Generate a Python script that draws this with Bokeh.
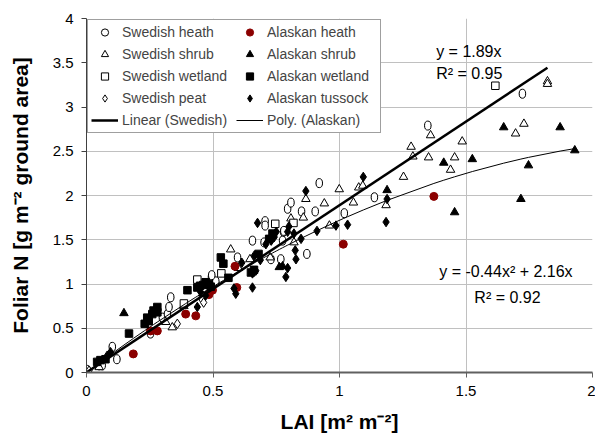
from bokeh.plotting import figure
from bokeh.models import Legend, LegendItem, Label, FixedTicker, NumeralTickFormatter, Range1d
from bokeh.embed import file_html
from bokeh.resources import INLINE

# ---------------- data ----------------
sw_heath_x = [0.003, 0.05, 0.062, 0.102, 0.12, 0.253, 0.30, 0.32, 0.326, 0.333, 0.458, 0.494, 0.511,
              0.495, 0.597, 0.656, 0.702, 0.729, 0.768, 0.779, 0.706, 0.706, 0.775, 0.78, 0.795, 0.808,
              0.850, 0.871, 0.904, 0.920, 1.019, 1.138, 1.349, 1.723]
sw_heath_y = [0.03, 0.08, 0.08, 0.29, 0.15, 0.44, 0.62, 0.66, 0.74, 0.85, 0.84, 1.08, 1.03,
              1.10, 1.30, 1.49, 1.47, 1.28, 1.28, 1.59, 1.71, 1.66, 1.49, 1.60, 1.85, 1.92,
              1.82, 1.34, 1.82, 2.14, 1.80, 1.98, 2.79, 3.15]

sw_shrub_x = [0.05, 0.313, 0.339, 0.385, 0.57, 0.60, 0.646, 0.726, 0.808, 0.82, 0.857, 0.867, 0.94,
              0.96, 0.999, 1.055, 1.076, 1.092, 1.184, 1.253, 1.283, 1.29, 1.352, 1.36, 1.439, 1.455,
              1.485, 1.696, 1.729, 1.822, 1.822]
sw_shrub_y = [0.06, 0.57, 0.51, 0.75, 1.39, 1.18, 1.28, 1.30, 1.74, 1.47, 1.75, 1.96, 1.91,
              1.66, 2.07, 1.92, 2.09, 2.11, 1.89, 2.21, 2.55, 2.44, 2.43, 2.68, 2.29, 2.43,
              2.61, 2.70, 2.81, 3.29, 3.26]

sw_wetland_x = [0.385, 0.438, 0.533, 0.746, 0.818, 1.616]
sw_wetland_y = [0.78, 1.05, 1.12, 1.68, 1.69, 3.24]

sw_peat_x = [0.01, 0.359, 0.463]
sw_peat_y = [0.02, 0.55, 0.79]

al_heath_x = [0.185, 0.253, 0.28, 0.392, 0.432, 0.484, 0.498, 0.587, 0.594, 1.015, 1.373]
al_heath_y = [0.21, 0.47, 0.47, 0.66, 0.64, 0.88, 0.93, 1.20, 0.96, 1.45, 1.99]

al_shrub_x = [0.148, 0.762, 0.775, 1.188, 1.412, 1.455, 1.525, 1.649, 1.717, 1.747, 1.872, 1.93]
al_shrub_y = [0.67, 1.19, 1.20, 2.06, 2.37, 1.81, 2.41, 2.77, 1.96, 2.34, 2.77, 2.51]

al_wetland_x = [0.042, 0.055, 0.075, 0.168, 0.23, 0.246, 0.24, 0.26, 0.265, 0.28, 0.28, 0.399, 0.438,
                0.449, 0.462, 0.471, 0.484, 0.491, 0.531, 0.541, 0.561, 0.65, 0.662, 0.68, 0.735, 0.722]
al_wetland_y = [0.12, 0.14, 0.15, 0.44, 0.55, 0.58, 0.62, 0.66, 0.70, 0.68, 0.74, 0.93, 0.96,
                0.98, 0.99, 1.02, 1.00, 0.97, 1.30, 1.23, 1.07, 1.13, 1.16, 1.34, 1.57, 1.51]

al_tussock_x = [0.082, 0.095, 0.438, 0.451, 0.471, 0.583, 0.590, 0.614, 0.656, 0.656, 0.663, 0.669,
                0.676, 0.687, 0.709, 0.73, 0.742, 0.75, 0.788, 0.795, 0.795, 0.80, 0.82, 0.825, 0.828,
                0.848, 0.867, 0.911, 0.986, 1.032, 1.094, 1.184, 1.188]
al_tussock_y = [0.19, 0.23, 0.74, 0.91, 0.87, 0.95, 0.89, 1.24, 0.96, 1.12, 1.32, 1.15,
                1.69, 1.27, 1.45, 1.49, 1.53, 1.59, 1.08, 1.18, 1.59, 1.65, 1.57, 1.38, 1.28,
                1.51, 2.05, 1.60, 1.66, 1.67, 2.21, 1.70, 1.96]

# trend-line coefficients (as printed on the chart)
sw_slope = 1.89
sw_r2 = 0.95
al_a2 = -0.44
al_a1 = 2.16
al_r2 = 0.92

x_ticks = [0, 0.5, 1, 1.5, 2]
y_ticks = [0, 0.5, 1, 1.5, 2, 2.5, 3, 3.5, 4]

FONT = "Liberation Sans"

# ---------------- figure ----------------
p = figure(width=595, height=447, output_backend="svg", toolbar_location=None,
           x_range=Range1d(0, 2), y_range=Range1d(0, 4),
           min_border_left=86, min_border_right=3, min_border_top=18, min_border_bottom=75)
p.outline_line_color = None
p.background_fill_color = "white"
p.border_fill_color = "white"

p.xaxis.ticker = FixedTicker(ticks=x_ticks)
p.yaxis.ticker = FixedTicker(ticks=y_ticks)
p.xgrid.ticker = FixedTicker(ticks=x_ticks)
p.ygrid.ticker = FixedTicker(ticks=y_ticks)
p.xaxis.formatter = NumeralTickFormatter(format="0.[0]")
p.yaxis.formatter = NumeralTickFormatter(format="0.[0]")
for g in (p.xgrid, p.ygrid):
    g.grid_line_color = "#c0c0c0"
    g.grid_line_width = 1

for ax in (p.xaxis, p.yaxis):
    ax.major_label_text_font = FONT
    ax.major_label_text_font_size = "15px"
    ax.major_label_text_color = "black"
    ax.axis_label_text_font = FONT
    ax.axis_label_text_font_size = "21px"
    ax.axis_label_text_font_style = "bold"
    ax.axis_label_text_color = "black"
    ax.minor_tick_line_color = None
    ax.major_tick_in = 0
    ax.major_tick_out = 5
    ax.major_label_standoff = 8

p.xaxis.axis_line_color = "#606060"
p.xaxis.axis_line_width = 2
p.xaxis.major_tick_line_color = "#606060"
p.yaxis.axis_line_color = "#404040"
p.yaxis.major_tick_line_color = "#404040"
p.xaxis.axis_label = "LAI [m² m⁻²]"
p.yaxis.axis_label = "Foliar N [g m⁻² ground area]"
p.xaxis.axis_label_standoff = 11
p.yaxis.axis_label_standoff = 18

# small round marker used for the legend entry; hidden underneath the ellipses
r_sw_heath_leg = p.scatter(sw_heath_x, sw_heath_y, marker="circle", size=6, fill_color="white",
                           line_color="black", line_width=1)
r_sw_heath = p.ellipse(sw_heath_x, sw_heath_y, width=6.5, height=9, width_units="screen",
                       height_units="screen", fill_color="white", line_color="black", line_width=1)
r_sw_shrub = p.scatter(sw_shrub_x, sw_shrub_y, marker="triangle", size=8.5, fill_color="white",
                       line_color="black", line_width=1)
r_sw_wet = p.scatter(sw_wetland_x, sw_wetland_y, marker="square", size=7.5, fill_color="white",
                     line_color="black", line_width=1)
r_sw_peat = p.scatter(sw_peat_x, sw_peat_y, marker="diamond", size=9.5,
                      fill_color="white", line_color="black", line_width=1)
r_al_heath = p.scatter(al_heath_x, al_heath_y, marker="circle", size=8, fill_color="#8b0000",
                       line_color="#8b0000")
r_al_shrub = p.scatter(al_shrub_x, al_shrub_y, marker="triangle", size=8.5, fill_color="black",
                       line_color="black")
r_al_wet = p.scatter(al_wetland_x, al_wetland_y, marker="square", size=7.5, fill_color="black",
                     line_color="black")
r_al_tus = p.scatter(al_tussock_x, al_tussock_y, marker="diamond", size=9.5,
                     fill_color="black", line_color="black")

sw_all_x = sw_heath_x + sw_shrub_x + sw_wetland_x + sw_peat_x
lin_x = [0.0, max(sw_all_x)]
lin_y = [sw_slope * v for v in lin_x]
r_lin = p.line(lin_x, lin_y, line_color="black", line_width=2.5)

al_all_x = sorted(al_heath_x + al_shrub_x + al_wetland_x + al_tussock_x)
poly_x = [0.0] + al_all_x
poly_y = [al_a2 * v * v + al_a1 * v for v in poly_x]
r_poly = p.line(poly_x, poly_y, line_color="black", line_width=1)

items = [
    LegendItem(label="Swedish heath", renderers=[r_sw_heath_leg]),
    LegendItem(label="Swedish shrub", renderers=[r_sw_shrub]),
    LegendItem(label="Swedish wetland", renderers=[r_sw_wet]),
    LegendItem(label="Swedish peat", renderers=[r_sw_peat]),
    LegendItem(label="Linear (Swedish)", renderers=[r_lin]),
    LegendItem(label="Alaskan heath", renderers=[r_al_heath]),
    LegendItem(label="Alaskan shrub", renderers=[r_al_shrub]),
    LegendItem(label="Alaskan wetland", renderers=[r_al_wet]),
    LegendItem(label="Alaskan tussock", renderers=[r_al_tus]),
    LegendItem(label="Poly. (Alaskan)", renderers=[r_poly]),
]
legend = Legend(items=items, ncols=2, location="top_left", margin=1, padding=3,
                spacing=4, label_height=18, glyph_height=18, glyph_width=27, label_standoff=4,
                label_width=110,
                label_text_font=FONT, label_text_font_size="14px",
                border_line_color="#404040", border_line_width=1,
                background_fill_color="white", background_fill_alpha=1.0)
p.add_layout(legend)

lab_style = dict(text_font=FONT, text_font_size="16px", text_color="black", text_baseline="alphabetic")
p.add_layout(Label(x=1.382, y=3.63, text=f"y = {sw_slope}x", **lab_style))
p.add_layout(Label(x=1.382, y=3.38, text=f"R² = {sw_r2}", **lab_style))
p.add_layout(Label(x=1.394, y=1.14, text=f"y = {al_a2}x² + {al_a1}x", **lab_style))
p.add_layout(Label(x=1.533, y=0.85, text=f"R² = {al_r2}", **lab_style))

open("out.html", "w").write(file_html(p, INLINE))
